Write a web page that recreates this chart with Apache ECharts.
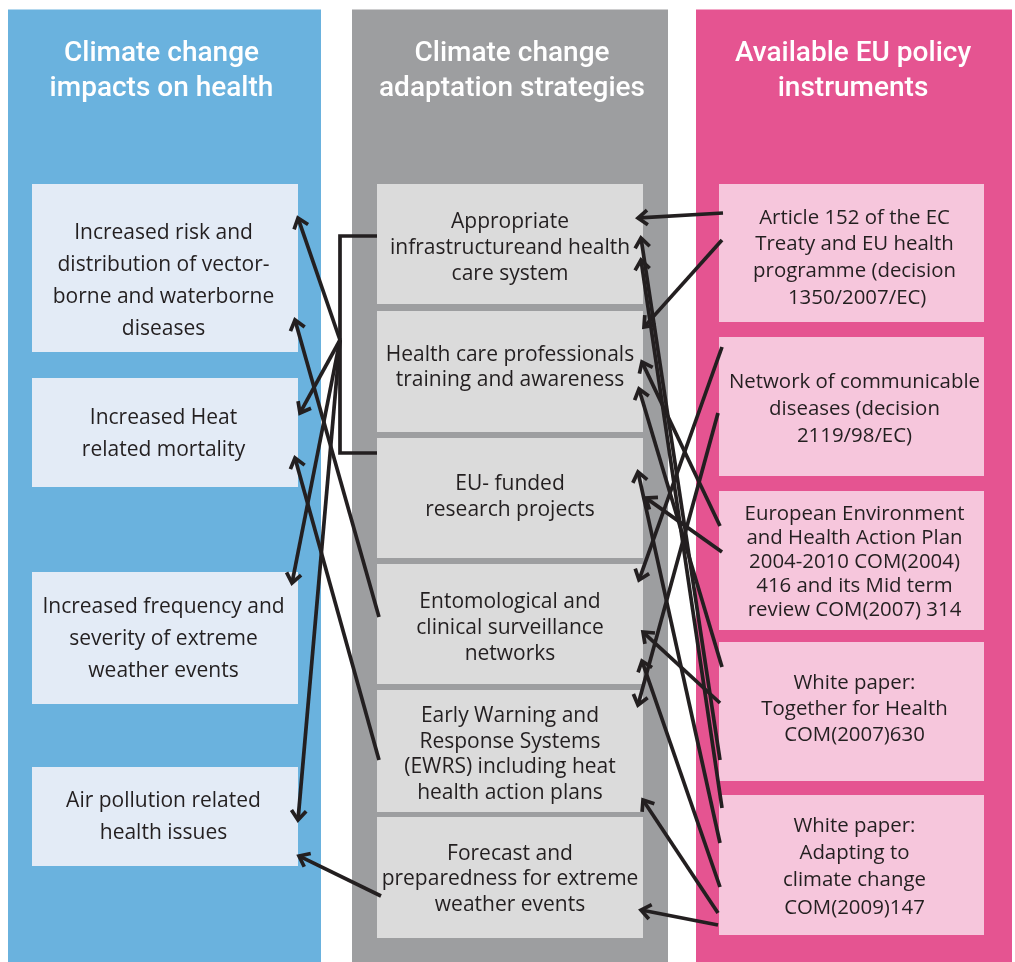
<!DOCTYPE html>
<html>
<head>
<meta charset="utf-8">
<script src="https://cdn.jsdelivr.net/npm/echarts@6/dist/echarts.min.js"></script>
<style>html,body{margin:0;padding:0;background:#fff}#c{width:1015px;height:962px}</style>
</head>
<body>
<div id="c"></div>
<script>
// ---------- content ----------
const headers = ['Climate change\nimpacts on health', 'Climate change\nadaptation strategies', 'Available EU policy\ninstruments'];
const impacts = [
  'Increased risk and\ndistribution of vector-\nborne and waterborne\ndiseases',
  'Increased Heat\nrelated mortality',
  'Increased frequency and\nseverity of extreme\nweather events',
  'Air pollution related\nhealth issues'
];
const strategies = [
  'Appropriate\ninfrastructureand health\ncare system',
  'Health care professionals\ntraining and awareness',
  'EU- funded\nresearch projects',
  'Entomological and\nclinical surveillance\nnetworks',
  'Early Warning and\nResponse Systems\n(EWRS) including heat\nhealth action plans',
  'Forecast and\npreparedness for extreme\nweather events'
];
const instruments = [
  'Article 152 of the EC\nTreaty and EU health\nprogramme (decision\n 1350/2007/EC)',
  'Network of communicable\ndiseases (decision\n2119/98/EC)',
  'European Environment\nand Health Action Plan\n2004-2010 COM(2004)\n416 and its Mid term\nreview COM(2007) 314',
  'White paper:\nTogether for Health\nCOM(2007)630',
  'White paper:\nAdapting to\nclimate change\nCOM(2009)147'
];

// ---------- layout (diagram units = pixels of the 1015x962 canvas) ----------
const W = 1015, H = 962;
const columnX = [[8, 321], [352, 668], [696, 1012]];
const columnY = [9.5, 962];
const headerCX = [161.5, 512, 853];
const headerCY = 71;
const impactX = [32, 298];
const impactCX = 163.5;
const impactRows = [[184, 352], [378, 487], [572, 704], [767, 866]];
const impactTextY = [281, 434, 639, 817];
const strategyX = [377, 643];
const strategyRows = [[184, 304], [311, 432], [438, 558], [564, 684], [690, 812], [817, 938]];
const strategyTextY = [248, 367.5, 497, 628, 754.5, 879.5];
const instrumentX = [719, 984];
const instrumentRows = [[184, 322], [337, 476], [491, 630], [642, 781], [795, 935]];
const instrumentTextY = [258, 409, 562, 709, 867];
const instrumentLH = [26.7, 27, 24, 26, 27.3];

// bracket joining the first and third strategies
const bracket = [[377, 236], [340, 236], [340, 453], [377, 453]];
// arrows: [fromX, fromY, toX(tip), toY(tip)]
const arrows = [
  [340, 340, 298, 218], [340, 340, 300, 413], [340, 340, 292, 583], [340, 340, 298, 820],
  [379, 617, 295, 320], [379, 760, 295, 458], [381, 896, 299, 856],
  [723, 213, 638, 218], [722, 240, 644, 327], [722, 347, 639, 580], [718, 413, 638, 705],
  [720, 526, 642, 362], [722, 552, 646, 498], [722, 667, 639, 389], [720, 703, 643, 632],
  [720, 760, 641, 238], [722, 808, 641, 260], [720, 843, 638, 472], [720, 887, 642, 661],
  [718, 913, 643, 800], [718, 925, 641, 910]
];

// ---------- styles ----------
const fills = ['#6ab2de', '#9d9ea0', '#e55491', '#e3ebf6', '#dbdbdb', '#f6c6dc'];
const ink = '#231f20';
const bodyFont = '"Open Sans", "Noto Sans", sans-serif';
const headFont = 'Roboto, sans-serif';

// ---------- build data ----------
const rects = [];
columnX.forEach((c, i) => rects.push([c[0], columnY[0], c[1], columnY[1], i]));
impactRows.forEach(r => rects.push([impactX[0], r[0], impactX[1], r[1], 3]));
strategyRows.forEach(r => rects.push([strategyX[0], r[0], strategyX[1], r[1], 4]));
instrumentRows.forEach(r => rects.push([instrumentX[0], r[0], instrumentX[1], r[1], 5]));

const texts = [];
headers.forEach((t, i) => texts.push({ v: [headerCX[i], headerCY], t, size: 28, lh: 35, color: '#ffffff', weight: 500, font: headFont }));
impacts.forEach((t, i) => texts.push({ v: [impactCX, impactTextY[i]], t, size: 21, lh: 32, color: ink, weight: 400, font: bodyFont }));
strategies.forEach((t, i) => texts.push({ v: [(strategyX[0] + strategyX[1]) / 2, strategyTextY[i]], t, size: 21, lh: 25.7, color: ink, weight: 400, font: bodyFont }));
instruments.forEach((t, i) => texts.push({ v: [(instrumentX[0] + instrumentX[1]) / 2 + 3, instrumentTextY[i]], t, size: 20.4, lh: instrumentLH[i], color: ink, weight: 400, font: bodyFont }));

const chart = echarts.init(document.getElementById('c'), null, { renderer: 'canvas' });
chart.setOption({
  animation: false,
  backgroundColor: '#ffffff',
  grid: { left: 0, right: 0, top: 0, bottom: 0 },
  xAxis: { type: 'value', min: 0, max: W, show: false },
  yAxis: { type: 'value', min: 0, max: H, inverse: true, show: false },
  series: [
    {
      type: 'custom', z: 1, clip: false,
      dimensions: ['x0', 'y0', 'x1', 'y1', 'c'],
      encode: { x: [0, 2], y: [1, 3] },
      data: rects,
      renderItem: (params, api) => {
        const a = api.coord([api.value(0), api.value(1)]);
        const b = api.coord([api.value(2), api.value(3)]);
        return {
          type: 'rect',
          shape: { x: Math.min(a[0], b[0]), y: Math.min(a[1], b[1]), width: Math.abs(b[0] - a[0]), height: Math.abs(b[1] - a[1]) },
          style: { fill: fills[api.value(4)] }
        };
      }
    },
    {
      type: 'custom', z: 2, clip: false,
      data: texts.map(d => d.v),
      renderItem: (params, api) => {
        const d = texts[params.dataIndex];
        const p = api.coord([api.value(0), api.value(1)]);
        return {
          type: 'text',
          style: {
            text: d.t, x: p[0], y: p[1], align: 'center', verticalAlign: 'middle',
            fill: d.color, fontSize: d.size, fontWeight: d.weight, fontFamily: d.font, lineHeight: d.lh
          }
        };
      }
    },
    {
      type: 'line', z: 3, data: bracket, symbol: 'none', silent: true,
      lineStyle: { color: ink, width: 3.7, cap: 'butt', join: 'miter' }
    },
    {
      type: 'custom', z: 3, clip: false,
      dimensions: ['x0', 'y0', 'x1', 'y1'],
      encode: { x: [0, 2], y: [1, 3] },
      data: arrows,
      renderItem: (params, api) => {
        const a = api.coord([api.value(0), api.value(1)]);
        const b = api.coord([api.value(2), api.value(3)]);
        const dx = b[0] - a[0], dy = b[1] - a[1];
        const len = Math.hypot(dx, dy);
        const ux = dx / len, uy = dy / len;
        const L = 12, ang = 38 * Math.PI / 180;
        const c = Math.cos(ang), s = Math.sin(ang);
        const w1 = [b[0] - L * (ux * c - uy * s), b[1] - L * (ux * s + uy * c)];
        const w2 = [b[0] - L * (ux * c + uy * s), b[1] - L * (-ux * s + uy * c)];
        return {
          type: 'group',
          children: [
            { type: 'line', shape: { x1: a[0], y1: a[1], x2: b[0] - ux * 1.5, y2: b[1] - uy * 1.5 }, style: { stroke: ink, lineWidth: 3.7, lineCap: 'butt' } },
            { type: 'polyline', shape: { points: [w1, b, w2] }, style: { stroke: ink, lineWidth: 3.7, fill: null, lineJoin: 'miter', lineCap: 'butt' } }
          ]
        };
      }
    }
  ]
});
</script>
</body>
</html>
